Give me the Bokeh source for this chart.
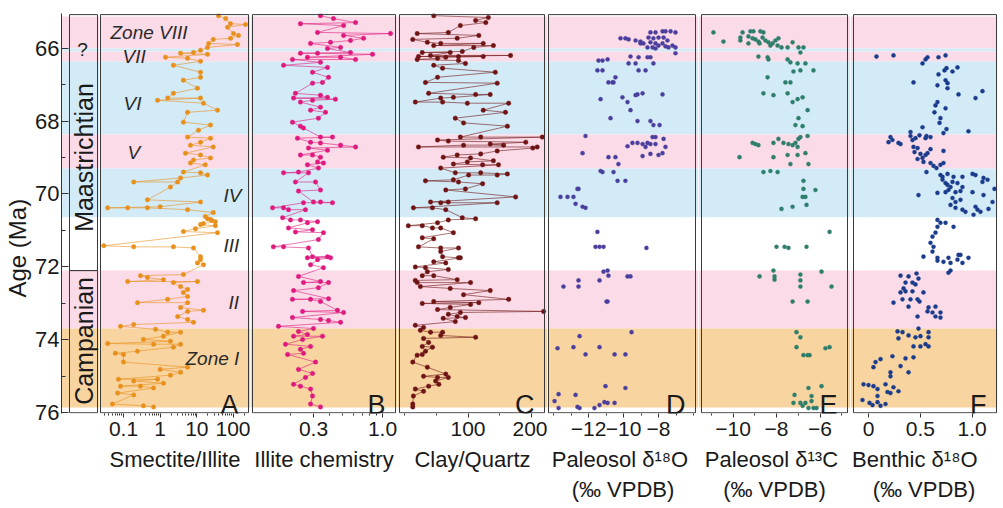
import numpy as np
from bokeh.plotting import figure
from bokeh.models import Range1d, FixedTicker, ColumnDataSource, Title
from bokeh.layouts import row
from bokeh.core.properties import value
from bokeh.embed import file_html
from bokeh.resources import INLINE

# ---------------- data ----------------
zone_names = ["Zone VIII", "VII", "VI", "V", "IV", "III", "II", "Zone I"]
band_top = [65.13, 66.00, 66.08, 66.36, 68.37, 69.30, 70.65, 72.10, 73.69]
band_bottom = [66.00, 66.08, 66.36, 68.37, 69.30, 70.65, 72.10, 73.69, 75.86]
band_kind = ["pink", "blue", "pink", "blue", "pink", "blue", "white", "pink", "orange"]

stage_names = ["Maastrichtian", "Campanian"]
stage_top = [65.08, 72.10]
stage_bottom = [72.10, 76.0]
kpg_age = 66.03

age_ticks = [66, 68, 70, 72, 74, 76]
age_minor = [67, 69, 71, 73, 75]

smectite_age = [65.11, 65.19, 65.33, 65.35, 65.43, 65.60, 65.65, 65.73, 65.76, 65.87,
                65.90, 65.98, 66.06, 66.12, 66.14, 66.17, 66.25, 66.28, 66.36, 66.47,
                66.66, 66.80, 66.88, 67.10, 67.24, 67.37, 67.37, 67.43, 67.51, 67.70,
                67.76, 68.03, 68.11, 68.25, 68.44, 68.47, 68.58, 68.66, 68.71, 68.88,
                68.93, 69.01, 69.07, 69.15, 69.20, 69.40, 69.42, 69.48, 69.56, 69.67,
                69.67, 69.81, 70.16, 70.22, 70.35, 70.38, 70.38, 70.38, 70.43, 70.51,
                70.62, 70.68, 70.70, 70.73, 70.76, 70.81, 70.84, 70.87, 70.95, 71.03,
                71.06, 71.42, 71.45, 71.45, 71.48, 71.72, 71.80, 71.89, 71.94, 72.21,
                72.24, 72.29, 72.35, 72.40, 72.40, 72.43, 72.54, 72.62, 72.70, 72.81,
                72.89, 72.98, 72.98, 73.11, 73.19, 73.22, 73.36, 73.44, 73.52, 73.58,
                73.63, 73.71, 73.79, 73.79, 73.90, 73.99, 74.04, 74.10, 74.12, 74.12,
                74.20, 74.31, 74.37, 74.40, 74.61, 74.75, 74.81, 74.89, 74.97, 75.08,
                75.08, 75.13, 75.19, 75.27, 75.27, 75.32, 75.46, 75.51, 75.76, 75.81,
                75.84]
smectite_ratio = [39, 61, 83, 213, 69, 100, 137, 83, 28, 21,
                  128, 19.5, 12.6, 8.1, 3.6, 19.5, 1.4, 5.6, 12.6, 2.3,
                  12.6, 12.6, 4.3, 10.4, 2.3, 1.6, 12.6, 0.85, 15.2, 36.6,
                  5.6, 4.3, 23.6, 11.1, 5.6, 23.6, 12.6, 6.7, 28, 4.9,
                  12.6, 23.6, 8.1, 6.7, 17, 4.3, 12.6, 19.5, 3.6, 0.19,
                  3.0, 1.9, 0.45, 12.6, 1.0, 0.037, 0.13, 0.45, 5.6, 28,
                  17, 19.5, 23.6, 26, 32, 15, 12.6, 32, 9.2, 4.3,
                  36.6, 0.029, 0.19, 2.3, 8.1, 12.6, 12.6, 10.4, 15.2, 4.3,
                  0.29, 0.45, 1.23, 0.13, 10.4, 2.3, 3.6, 5.6, 4.3, 5.6,
                  1.6, 0.24, 5.6, 3.6, 15.2, 5.6, 3.0, 5.6, 8.1, 0.19,
                  0.083, 0.75, 1.6, 3.6, 1.23, 0.35, 1.9, 0.037, 0.66, 3.6,
                  2.3, 0.24, 0.06, 0.1, 0.1, 5.6, 1.0, 3.6, 1.9, 0.073,
                  0.85, 0.19, 1.23, 0.083, 0.29, 0.66, 0.069, 0.19, 0.05, 0.35,
                  0.66]

illite_age = [65.11, 65.19, 65.30, 65.33, 65.38, 65.57, 65.60, 65.65, 65.73, 65.79,
              65.84, 65.87, 65.98, 66.01, 66.12, 66.14, 66.14, 66.17, 66.25, 66.25,
              66.31, 66.31, 66.39, 66.47, 66.53, 66.66, 66.80, 66.94, 66.96, 67.24,
              67.29, 67.35, 67.37, 67.40, 67.43, 67.48, 67.62, 67.70, 67.76, 67.92,
              68.03, 68.14, 68.19, 68.44, 68.44, 68.47, 68.58, 68.60, 68.66, 68.71,
              68.74, 68.80, 68.93, 68.93, 68.99, 69.12, 69.15, 69.20, 69.29, 69.40,
              69.42, 69.42, 69.67, 69.67, 69.89, 69.92, 70.22, 70.22, 70.24, 70.24,
              70.38, 70.38, 70.43, 70.43, 70.65, 70.71, 70.71, 70.76, 70.79, 70.93,
              70.98, 71.04, 71.06, 71.25, 71.45, 71.45, 71.48, 71.72, 71.72, 71.75,
              71.75, 71.80, 71.94, 72.02, 72.26, 72.40, 72.43, 72.43, 72.57, 72.65,
              72.87, 72.89, 72.89, 72.95, 73.19, 73.22, 73.25, 73.39, 73.44, 73.47,
              73.52, 73.63, 73.69, 73.77, 73.85, 73.90, 73.90, 73.99, 74.12, 74.18,
              74.26, 74.37, 74.40, 74.61, 74.81, 74.92, 75.03, 75.22, 75.27, 75.35,
              75.54, 75.76, 75.84]
illite_chem = [0.339, 0.425, 0.625, 0.239, 0.507, 0.322, 1.15, 0.507, 0.718, 0.572,
               0.404, 0.285, 0.481, 0.383, 0.572, 0.239, 0.322, 0.84, 0.270, 0.481,
               0.625, 0.208, 0.339, 0.178, 0.383, 0.295, 0.390, 0.351, 0.295, 0.219,
               0.339, 0.383, 0.212, 0.44, 0.295, 0.239, 0.339, 0.285, 0.370, 0.327,
               0.208, 0.239, 0.252, 0.339, 0.418, 0.227, 0.285, 0.339, 0.481, 0.625,
               0.275, 0.383, 0.239, 0.295, 0.339, 0.322, 0.357, 0.270, 0.327, 0.231,
               0.178, 0.275, 0.219, 0.311, 0.339, 0.231, 0.30, 0.339, 0.418, 0.252,
               0.147, 0.178, 0.194, 0.261, 0.175, 0.201, 0.239, 0.322, 0.270, 0.194,
               0.295, 0.219, 0.357, 0.327, 0.149, 0.178, 0.275, 0.295, 0.383, 0.270,
               0.404, 0.322, 0.285, 0.357, 0.231, 0.339, 0.252, 0.390, 0.327, 0.212,
               0.390, 0.208, 0.285, 0.339, 0.456, 0.248, 0.507, 0.208, 0.339, 0.390,
               0.481, 0.163, 0.30, 0.231, 0.270, 0.212, 0.351, 0.248, 0.184, 0.285,
               0.239, 0.252, 0.191, 0.311, 0.231, 0.295, 0.261, 0.212, 0.239, 0.285,
               0.295, 0.285, 0.339]

clay_age = [65.11, 65.16, 65.24, 65.30, 65.38, 65.57, 65.60, 65.65, 65.73, 65.76,
            65.84, 65.87, 65.87, 65.93, 65.93, 65.98, 66.09, 66.12, 66.12, 66.20,
            66.20, 66.23, 66.23, 66.23, 66.25, 66.28, 66.31, 66.34, 66.42, 66.47,
            66.55, 66.66, 66.80, 66.94, 66.96, 67.24, 67.27, 67.27, 67.35, 67.37,
            67.48, 67.48, 67.51, 67.51, 67.70, 67.76, 67.92, 68.05, 68.14, 68.44,
            68.44, 68.44, 68.52, 68.55, 68.58, 68.63, 68.66, 68.66, 68.71, 68.71,
            68.74, 68.82, 68.90, 68.93, 68.99, 69.01, 69.09, 69.12, 69.18, 69.20,
            69.20, 69.29, 69.42, 69.42, 69.45, 69.48, 69.48, 69.61, 69.64, 69.67,
            69.72, 69.86, 69.89, 70.08, 70.22, 70.22, 70.24, 70.24, 70.38, 70.38,
            70.43, 70.65, 70.68, 70.71, 70.79, 70.87, 70.87, 70.93, 70.93, 71.06,
            71.20, 71.23, 71.45, 71.48, 71.48, 71.58, 71.72, 71.75, 71.75, 71.86,
            71.89, 72.00, 72.02, 72.07, 72.13, 72.24, 72.24, 72.35, 72.37, 72.43,
            72.43, 72.54, 72.59, 72.65, 72.76, 72.89, 72.95, 72.98, 73.00, 73.03,
            73.11, 73.17, 73.22, 73.25, 73.30, 73.36, 73.39, 73.41, 73.50, 73.60,
            73.66, 73.74, 73.79, 73.79, 73.88, 73.93, 73.96, 74.07, 74.18, 74.20,
            74.31, 74.40, 74.42, 74.61, 74.75, 74.94, 75.00, 75.03, 75.03, 75.13,
            75.22, 75.27, 75.35, 75.41, 75.54, 75.76, 75.84]
clay_quartz = [46, 132, 112, 128, 88, 69, 20, 117, 83, 13,
               36, 57, 124, 46, 140, 109, 91, 28, 72, 41,
               167, 22, 85, 124, 65, 52, 20, 85, 96, 46,
               60, 143, 52, 33, 146, 38, 112, 135, 77, 57,
               17, 60, 99, 164, 124, 159, 80, 93, 162, 88,
               120, 217, 52, 69, 191, 135, 156, 93, 22, 209,
               202, 146, 120, 83, 61, 104, 140, 99, 77, 123,
               148, 57, 80, 120, 162, 146, 101, 77, 33, 85,
               123, 96, 65, 175, 41, 69, 57, 146, 14, 44,
               65, 91, 112, 69, 52, 6, 28, 44, 57, 77,
               28, 46, 22, 57, 85, 57, 60, 85, 88, 46,
               65, 17, 33, 69, 36, 28, 46, 83, 17, 20,
               104, 25, 72, 135, 93, 164, 46, 117, 28, 104,
               72, 52, 219, 88, 69, 83, 96, 61, 80, 17,
               30, 25, 41, 60, 57, 112, 30, 38, 28, 44,
               33, 28, 20, 13, 36, 65, 30, 52, 69, 49,
               54, 38, 17, 30, 14, 13, 13]

soil_o_age = [65.54, 65.54, 65.54, 65.57, 65.57, 65.57, 65.71, 65.71, 65.71, 65.73,
              65.73, 65.73, 65.76, 65.79, 65.79, 65.82, 65.84, 65.87, 65.87, 65.87,
              65.87, 65.93, 65.93, 65.95, 65.98, 65.98, 65.98, 65.98, 66.01, 66.14,
              66.23, 66.25, 66.25, 66.25, 66.31, 66.34, 66.34, 66.42, 66.42, 66.42,
              66.61, 66.61, 66.61, 66.61, 66.80, 66.94, 66.94, 66.94, 67.24, 67.27,
              67.27, 67.29, 67.35, 67.40, 67.48, 67.70, 67.92, 68.00, 68.00, 68.11,
              68.11, 68.41, 68.44, 68.44, 68.49, 68.60, 68.60, 68.60, 68.63, 68.63,
              68.63, 68.69, 68.71, 68.71, 68.88, 68.88, 68.90, 68.93, 68.96, 68.99,
              68.99, 69.18, 69.37, 69.40, 69.40, 69.64, 69.64, 69.86, 69.86, 70.08,
              70.08, 70.08, 70.27, 70.35, 70.38, 71.04, 71.45, 71.45, 71.45, 71.48,
              72.10, 72.13, 72.24, 72.26, 72.26, 72.37, 72.37, 72.54, 72.54, 72.95,
              72.95, 73.79, 73.90, 74.20, 74.20, 74.23, 74.40, 74.40, 74.40, 75.27,
              75.32, 75.49, 75.51, 75.68, 75.71, 75.73, 75.73, 75.79, 75.84, 75.87,
              75.87, 75.87]
soil_d18o = [-7.77, -7.6, -7.31, -8.46, -8.17, -7.03, -8.57, -8.0, -7.71, -10.17,
             -9.89, -8.29, -9.71, -9.31, -7.49, -9.03, -8.46, -9.03, -8.86, -8.17,
             -7.77, -8.0, -7.2, -7.6, -7.43, -7.03, -8.34, -8.63, -8.17, -7.03,
             -9.6, -9.14, -8.63, -8.46, -10.91, -11.43, -11.2, -9.71, -9.31, -8.29,
             -11.49, -11.2, -9.14, -8.74, -10.46, -10.86, -10.63, -10.57, -8.91, -9.2,
             -7.77, -9.31, -10.06, -11.31, -9.77, -9.6, -10.74, -9.2, -8.46, -8.29,
             -7.94, -12.17, -8.34, -8.17, -7.71, -9.49, -9.2, -8.63, -8.91, -8.46,
             -8.17, -9.77, -7.6, -8.74, -12.34, -7.77, -8.46, -8.0, -8.91, -10.86,
             -10.46, -10.29, -11.31, -11.2, -10.57, -10.34, -9.89, -12.63, -12.57, -13.6,
             -13.2, -12.86, -12.74, -12.34, -12.17, -11.49, -11.6, -11.37, -11.14, -8.69,
             -10.91, -11.14, -10.86, -9.77, -9.6, -12.57, -11.37, -13.43, -12.57, -10.97,
             -10.91, -9.54, -12.51, -12.86, -11.37, -13.77, -12.17, -10.51, -9.89, -11.03,
             -9.89, -13.71, -12.74, -13.94, -11.09, -10.91, -10.51, -11.37, -12.63, -11.66,
             -12.51, -13.71]

soil_c_age = [65.54, 65.54, 65.54, 65.57, 65.57, 65.57, 65.68, 65.71, 65.71, 65.73,
              65.73, 65.76, 65.79, 65.79, 65.79, 65.82, 65.82, 65.84, 65.84, 65.87,
              65.87, 65.87, 65.93, 65.93, 65.98, 65.98, 65.98, 65.98, 66.12, 66.23,
              66.25, 66.31, 66.31, 66.39, 66.42, 66.42, 66.61, 66.61, 66.64, 66.80,
              66.94, 66.94, 67.24, 67.24, 67.29, 67.35, 67.40, 67.48, 67.70, 67.92,
              68.11, 68.14, 68.41, 68.44, 68.49, 68.49, 68.60, 68.60, 68.60, 68.60,
              68.63, 68.63, 68.66, 68.66, 68.71, 68.88, 68.93, 68.93, 68.99, 68.99,
              69.18, 69.18, 69.37, 69.40, 69.40, 69.64, 69.86, 69.89, 70.08, 70.08,
              70.30, 70.35, 70.41, 71.04, 71.45, 71.45, 71.45, 71.48, 72.10, 72.13,
              72.21, 72.26, 72.26, 72.35, 72.37, 72.54, 72.54, 72.95, 72.95, 73.79,
              73.93, 74.20, 74.20, 74.23, 74.42, 74.42, 74.42, 75.27, 75.32, 75.51,
              75.54, 75.68, 75.73, 75.73, 75.73, 75.81, 75.87, 75.87, 75.87]
soil_d13c = [-9.2, -9.06, -8.74, -10.9, -9.56, -8.6, -9.29, -9.66, -8.64, -9.1,
             -7.91, -8.97, -8.51, -8.05, -9.66, -10.44, -8.83, -8.37, -7.26, -8.18,
             -9.29, -8.78, -8.28, -7.95, -7.77, -7.49, -6.99, -6.76, -6.9, -8.83,
             -8.41, -8.37, -7.49, -7.36, -7.03, -6.67, -6.9, -6.3, -7.22, -8.41,
             -7.59, -7.36, -8.6, -7.49, -8.14, -6.8, -7.03, -7.26, -6.57, -6.99,
             -7.13, -6.8, -6.57, -6.9, -7.91, -6.99, -9.1, -8.14, -7.68, -7.13,
             -8.97, -7.45, -8.83, -7.26, -7.03, -6.67, -7.49, -7.03, -9.70, -8.14,
             -7.36, -6.53, -8.28, -8.6, -7.95, -6.76, -6.76, -6.21, -6.8, -6.67,
             -6.62, -7.26, -7.77, -5.56, -8.0, -7.63, -6.62, -7.45, -8.14, -5.93,
             -6.9, -8.09, -8.78, -8.09, -6.9, -6.9, -5.47, -7.26, -6.57, -7.08,
             -6.9, -7.08, -5.56, -5.75, -6.76, -6.57, -6.48, -5.93, -6.53, -7.17,
             -6.39, -6.39, -7.22, -6.9, -6.67, -6.8, -6.53, -6.3, -6.16]

benthic_age = [66.20, 66.20, 66.23, 66.25, 66.25, 66.31, 66.42, 66.53, 66.55, 66.61,
               66.64, 66.72, 66.88, 66.94, 66.96, 67.02, 67.10, 67.18, 67.27, 67.37,
               67.48, 67.57, 67.65, 67.76, 67.92, 68.05, 68.17, 68.22, 68.28, 68.30,
               68.33, 68.39, 68.41, 68.41, 68.44, 68.44, 68.47, 68.47, 68.52, 68.52,
               68.58, 68.60, 68.63, 68.71, 68.74, 68.77, 68.82, 68.85, 68.88, 68.90,
               68.93, 69.01, 69.04, 69.12, 69.15, 69.15, 69.20, 69.23, 69.29, 69.40,
               69.45, 69.45, 69.48, 69.48, 69.53, 69.53, 69.53, 69.56, 69.61, 69.61,
               69.67, 69.67, 69.70, 69.70, 69.75, 69.81, 69.81, 69.86, 69.89, 69.92,
               69.95, 69.95, 69.95, 69.97, 70.03, 70.03, 70.11, 70.16, 70.22, 70.22,
               70.30, 70.35, 70.38, 70.41, 70.43, 70.43, 70.49, 70.49, 70.57, 70.71,
               70.79, 70.79, 70.90, 70.90, 71.06, 71.17, 71.34, 71.45, 71.58, 71.67,
               71.67, 71.72, 71.75, 71.75, 71.75, 71.80, 71.83, 71.86, 71.89, 71.89,
               72.10, 72.16, 72.18, 72.24, 72.26, 72.32, 72.43, 72.43, 72.48, 72.59,
               72.67, 72.67, 72.70, 72.70, 72.89, 72.89, 72.89, 72.95, 72.98, 73.09,
               73.09, 73.11, 73.22, 73.25, 73.25, 73.36, 73.36, 73.39, 73.69, 73.77,
               73.79, 73.79, 73.88, 73.90, 73.93, 73.93, 73.96, 74.12, 74.18, 74.18,
               74.18, 74.45, 74.48, 74.51, 74.53, 74.61, 74.72, 74.75, 74.89, 74.89,
               75.00, 75.22, 75.22, 75.24, 75.27, 75.30, 75.35, 75.41, 75.43, 75.46,
               75.54, 75.65, 75.71, 75.73, 75.76, 75.79, 75.81]
benthic_d18o = [0.241, 0.743, 0.077, 0.569, 0.675, 0.55, 0.521, 0.858, 0.752, 0.733,
                0.81, 0.675, 0.743, 0.434, 0.762, 0.665, 0.762, 1.099, 0.868, 1.032,
                0.665, 0.646, 0.743, 0.636, 0.694, 0.685, 0.521, 0.752, 0.964, 0.405,
                0.723, 0.492, 0.405, 0.559, 0.212, 0.598, 0.453, 0.55, 0.231, 0.424,
                0.193, 0.289, 0.309, 0.434, 0.473, 0.598, 0.723, 0.444, 0.569, 0.501,
                0.55, 0.521, 0.473, 0.53, 0.598, 0.723, 0.694, 0.627, 0.656, 0.559,
                0.762, 1.003, 0.694, 1.032, 0.714, 0.82, 0.906, 1.109, 0.714, 1.148,
                0.81, 1.099, 0.743, 0.858, 0.762, 0.791, 0.906, 1.215, 0.771, 0.887,
                0.743, 0.839, 1.003, 0.665, 0.482, 1.109, 0.81, 0.887, 0.839, 1.196,
                0.791, 1.032, 0.839, 1.157, 0.906, 1.051, 0.935, 1.08, 1.013, 0.665,
                0.694, 0.743, 0.665, 0.82, 0.646, 0.617, 0.598, 0.627, 0.617, 0.868,
                0.887, 0.53, 0.665, 0.771, 0.964, 0.858, 0.665, 0.723, 0.791, 0.906,
                0.791, 0.771, 0.463, 0.309, 0.386, 0.482, 0.357, 0.424, 0.453, 0.338,
                0.357, 0.424, 0.309, 0.53, 0.328, 0.405, 0.473, 0.492, 0.241, 0.386,
                0.646, 0.579, 0.569, 0.617, 0.694, 0.646, 0.473, 0.694, 0.482, 0.28,
                0.328, 0.579, 0.386, 0.501, 0.453, 0.579, 0.289, 0.55, 0.434, 0.501,
                0.579, 0.231, 0.434, 0.357, 0.116, 0.068, 0.309, 0.048, 0.212, 0.386,
                0.212, -0.048, 0.164, 0.0, 0.048, 0.241, 0.087, 0.289, 0.183, 0.212,
                0.087, -0.058, 0.087, 0.01, 0.164, 0.039, 0.116]

# ---------------- styling / layout ----------------
FONT = "Liberation Sans"
INK = "#1a1a1a"
FRAME_LINE = "#3a3a3a"
BAND_COLORS = {"pink": "#FADBE7", "blue": "#D3EAF7", "white": "#FFFFFF", "orange": "#F8D4A0"}
H = 508
TOP, BOTTOM = 13, 95
Y_START, Y_END = 76.02, 65.05
BOX_TOP, BOX_BOTTOM = 65.08, 76.0

band_src = ColumnDataSource(dict(y0=band_top, y1=band_bottom,
                                 color=[BAND_COLORS[k] for k in band_kind]))


def px_value(kind, anchor, px):
    v0, p0, k = anchor
    if kind == "log":
        return 10 ** (np.log10(v0) + (px - p0) / k)
    return v0 + (px - p0) / k


def base_fig(width, x_range, x_type="linear", left=0, right=0, xaxis=True, yaxis=False):
    p = figure(width=width, height=H, x_range=x_range, y_range=Range1d(Y_START, Y_END),
               x_axis_type=x_type, output_backend="svg", toolbar_location=None,
               min_border_left=left, min_border_right=right,
               min_border_top=TOP, min_border_bottom=BOTTOM,
               x_axis_location="below" if xaxis else None,
               y_axis_location="left" if yaxis else None,
               outline_line_color=None, background_fill_color="white",
               border_fill_color="white")
    p.grid.visible = False
    p.hstrip(y0="y0", y1="y1", fill_color="color", line_color=None, source=band_src)
    return p


# ----- stage column + age axis -----
p0 = base_fig(99, Range1d(61, 99), left=61, xaxis=False, yaxis=True)
p0.quad(left=69, right=97, top=stage_top, bottom=stage_bottom,
        fill_color=None, line_color=FRAME_LINE, line_width=1)
p0.text(x=[83, 83], y=[69.0, 74.03], text=stage_names, angle=np.pi / 2,
        text_font=value(FONT), text_font_size="25px", text_align="center",
        text_baseline="middle", text_color=INK)
p0.text(x=[82], y=[kpg_age], text=["?"], text_font=value(FONT), text_font_size="19px",
        text_align="center", text_baseline="middle", text_color=INK)
ya = p0.yaxis[0]
ya.ticker = FixedTicker(ticks=age_ticks, minor_ticks=age_minor)
ya.major_tick_in = 7
ya.major_tick_out = 0
ya.minor_tick_in = 4
ya.minor_tick_out = 0
ya.axis_line_color = "#333333"
ya.major_tick_line_color = "#333333"
ya.minor_tick_line_color = "#333333"
ya.major_label_text_font = FONT
ya.major_label_text_font_size = "22px"
ya.major_label_text_color = INK
ya.major_label_standoff = 2
p0.add_layout(Title(text="Age (Ma)", align="left", offset=116, text_font=FONT,
                    text_font_size="24px", text_font_style="normal", text_color=INK,
                    standoff=3), "left")

# ----- data panels -----
panels = [
    dict(letter="A", canvas=(99, 250), box=(100, 248), kind="log", anchor=(1.0, 159.67, 36.67),
         ticks=[0.1, 1, 10, 100],
         minor=[0.03, 0.04, 0.05, 0.06, 0.07, 0.08, 0.09, 0.2, 0.3, 0.4, 0.5, 0.6, 0.7, 0.8, 0.9,
                2, 3, 4, 5, 6, 7, 8, 9, 20, 30, 40, 50, 60, 70, 80, 90, 200],
         overrides={0.1: "0.1", 1: "1", 10: "10", 100: "100"},
         title="Smectite/Illite", x=smectite_ratio, y=smectite_age, color="#E8901C", line=True),
    dict(letter="B", canvas=(250, 397), box=(252, 395), kind="log", anchor=(1.0, 382, 132),
         ticks=[0.3, 1.0], minor=[0.2, 0.4, 0.5, 0.6, 0.7, 0.8, 0.9],
         overrides={0.3: "0.3", 1: "1.0"},
         title="Illite chemistry", x=illite_chem, y=illite_age, color="#DE1A7E", line=True),
    dict(letter="C", canvas=(397, 547), box=(399, 544), kind="linear", anchor=(0, 404, 0.635),
         ticks=[100, 200], minor=[0, 50, 150], overrides={},
         title="Clay/Quartz", x=clay_quartz, y=clay_age, color="#6E1414", line=True),
    dict(letter="D", canvas=(547, 698), box=(548, 695), kind="linear", anchor=(-12, 588, 17.5),
         ticks=[-12, -10, -8], minor=[-14, -13, -11, -9, -7, -6], overrides={},
         title="Paleosol  δ¹⁸O\n(‰ VPDB)", x=soil_d18o, y=soil_o_age, color="#4B3F9E", line=False),
    dict(letter="E", canvas=(698, 850), box=(701, 847), kind="linear", anchor=(-8, 776, 21.75),
         ticks=[-10, -8, -6], minor=[-11, -9, -7, -5], overrides={},
         title="Paleosol  δ¹³C\n(‰ VPDB)", x=soil_d13c, y=soil_c_age, color="#2E7E6C", line=False),
    dict(letter="F", canvas=(850, 1003), box=(853, 996), kind="linear", anchor=(0, 868, 103.7),
         ticks=[0, 0.5, 1.0], minor=[], overrides={0: "0", 0.5: "0.5", 1: "1.0"},
         title="Benthic    δ¹⁸O\n(‰ VPDB)", x=benthic_d18o, y=benthic_age, color="#1B3C8C", line=False),
]

figs = [p0]
for i, s in enumerate(panels):
    c0, c1 = s["canvas"]
    right = 6 if i == len(panels) - 1 else 0
    kind, anchor = s["kind"], s["anchor"]
    xr = Range1d(px_value(kind, anchor, c0), px_value(kind, anchor, c1 - right))
    p = base_fig(c1 - c0, xr, "log" if kind == "log" else "linear", right=right)

    age = np.array(s["y"], dtype=float)
    val = np.array(s["x"], dtype=float)
    order = np.argsort(age, kind="stable")
    age, val = age[order], val[order]
    if s["line"]:
        p.line(val, age, line_color=s["color"], line_width=0.7, line_alpha=0.85)
        p.scatter(val, age, size=4.5, fill_color=s["color"], line_color=s["color"], line_width=0.4)
    else:
        p.scatter(val, age, size=4.2, fill_color=s["color"], line_color=s["color"], line_width=0.3)

    bx0, bx1 = s["box"]
    p.quad(left=[px_value(kind, anchor, bx0)], right=[px_value(kind, anchor, bx1)],
           top=[BOX_TOP], bottom=[BOX_BOTTOM], fill_color=None,
           line_color=FRAME_LINE, line_width=1)
    p.text(x=[px_value(kind, anchor, bx1 - 10)], y=[75.80], text=[s["letter"]],
           text_font=value(FONT), text_font_size="27px", text_align="right",
           text_baseline="alphabetic", text_color=INK)

    ax = p.xaxis[0]
    ax.ticker = FixedTicker(ticks=s["ticks"], minor_ticks=s["minor"])
    if s["overrides"]:
        ax.major_label_overrides = s["overrides"]
    ax.axis_line_color = None
    ax.major_tick_in = 0
    ax.major_tick_out = 4
    ax.minor_tick_in = 0
    ax.minor_tick_out = 2
    ax.major_tick_line_color = "#333333"
    ax.minor_tick_line_color = "#333333"
    ax.major_label_text_font = FONT
    ax.major_label_text_font_size = "21px"
    ax.major_label_text_color = INK
    ax.major_label_standoff = 4
    ax.axis_label = s["title"]
    ax.axis_label_text_font = FONT
    ax.axis_label_text_font_size = "22px"
    ax.axis_label_text_font_style = "normal"
    ax.axis_label_text_color = INK
    ax.axis_label_standoff = 8
    figs.append(p)

# zone labels in panel A
pa = figs[1]
a_kind, a_anchor = panels[0]["kind"], panels[0]["anchor"]
zone_label_px = [110, 122, 123, 127, 223, 223, 228, 185]
zone_label_age = [65.57, 66.23, 67.52, 68.86, 70.04, 71.41, 72.98, 74.51]
pa.text(x=[px_value(a_kind, a_anchor, x) for x in zone_label_px], y=zone_label_age,
        text=zone_names, text_font=value(FONT), text_font_style="italic",
        text_font_size="19px", text_align="left", text_baseline="middle", text_color="#2a2a2a")

layout = row(*figs, spacing=0)
open("out.html", "w").write(file_html(layout, INLINE))
